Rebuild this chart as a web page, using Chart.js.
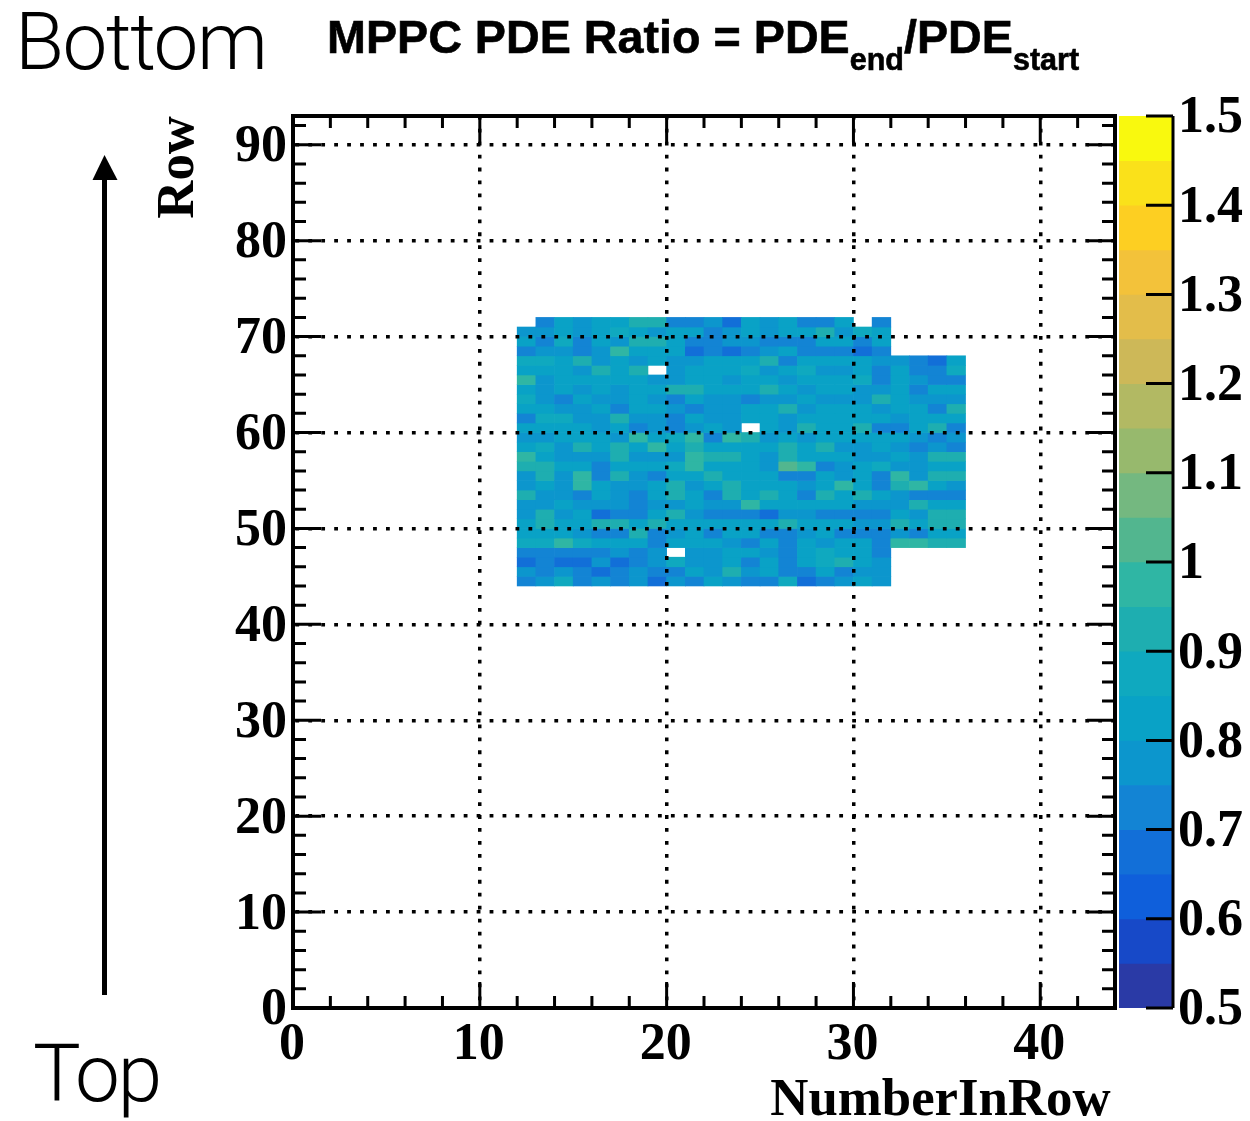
<!DOCTYPE html>
<html>
<head>
<meta charset="utf-8">
<title>MPPC PDE Ratio</title>
<script src="https://cdn.jsdelivr.net/npm/chart.js@4"></script>
<style>
    html, body { margin: 0; padding: 0; background: #fff; }
    #page { position: relative; width: 1250px; height: 1121px; overflow: hidden; }
    #mainChart { position: absolute; left: 0; top: 0; }
    #barChart { position: absolute; left: 1119px; top: 60px; }
    #arrow { position: absolute; left: 80px; top: 140px; }
    .side { position: absolute; font-family: Roboto, sans-serif; font-weight: 300; font-size: 80px; line-height: 81px; color: #000; white-space: nowrap; }
    #title { position: absolute; left: 327px; top: 11px; font: bold 46.7px/52px "Liberation Sans", sans-serif; color: #000; white-space: nowrap; -webkit-text-stroke: 0.6px #000; }
    #title span { position: relative; top: 17px; font-size: 30.5px; }
</style>
</head>
<body>
<div id="page">
    <canvas id="mainChart" width="1250" height="1121"></canvas>
    <canvas id="barChart" width="131" height="1030"></canvas>
    <svg id="arrow" width="50" height="870">
        <line x1="24.5" y1="35" x2="24.5" y2="855" stroke="#000" stroke-width="5"></line>
        <polygon points="24.5,15 12.5,40 37.5,40" fill="#000"></polygon>
    </svg>
    <div class="side" style="left:15px; top:2px; letter-spacing:-1.5px;">Bottom</div>
    <div class="side" style="left:33px; top:1034px; letter-spacing:-2px;">Top</div>
    <div id="title">MPPC PDE Ratio = PDE<span>end</span>/PDE<span>start</span></div>
</div>
<script>
// first column of every row below, rows run from column 12 to 35
const firstColumn = 12;
const xTicks = [0, 10, 20, 30, 40];
const yTicks = [0, 10, 20, 30, 40, 50, 60, 70, 80, 90];
const zTicks = [0.5, 0.6, 0.7, 0.8, 0.9, 1, 1.1, 1.2, 1.3, 1.4, 1.5];

const row44 = [.72,.77,.87,.72,.77,.72,.77,.67,.77,.72,.82,.77,.72,.72,.87,.67,.72,.77,.82,.77,null,null,null,null];
const row45 = [.77,.72,.77,.72,.67,.72,.77,.72,.72,.82,.77,.92,.77,.82,.72,.72,.82,.72,.77,.77,null,null,null,null];
const row46 = [.67,.72,.67,.67,.77,.67,.72,.77,.87,.77,.77,.82,.72,.82,.72,.82,.87,.92,.82,.77,null,null,null,null];
const row47 = [.72,.72,.72,.72,.72,.77,.72,.77,null,.77,.77,.82,.82,.77,.72,.82,.87,.82,.82,.72,null,null,null,null];
const row48 = [.87,.87,.97,.87,.82,.82,.82,.72,.82,.82,.82,.77,.72,.82,.72,.82,.77,.82,.82,.72,.97,.97,.92,.92];
const row49 = [.82,.82,.82,.77,.72,.72,.92,.72,.77,.82,.72,.82,.82,.72,.72,.77,.82,.72,.72,.72,.77,.72,.82,.82];
const row50 = [.82,.92,.82,.82,.92,.92,.82,.92,.82,.82,.82,.82,.82,.82,.92,.82,.82,.82,.77,.77,.92,.82,.92,.92];
const row51 = [.77,.92,.77,.82,.67,.72,.72,.82,.92,.77,.72,.72,.72,.67,.77,.77,.72,.72,.72,.72,.82,.77,.92,.92];
const row52 = [.77,.77,.82,.77,.77,.77,.72,.77,.77,.82,.77,.77,.97,.82,.82,.82,.82,.82,.77,.77,.77,.92,.82,.82];
const row53 = [.92,.77,.77,.72,.82,.77,.72,.82,.92,.82,.72,.92,.82,.92,.82,.72,.92,.82,.92,.82,.77,.72,.72,.72];
const row54 = [.77,.82,.77,.97,.82,.77,.77,.82,.92,.77,.82,.92,.82,.82,.82,.77,.82,.97,.82,.72,.92,.97,.82,.77];
const row55 = [.77,.92,.77,.97,.72,.92,.77,.72,.82,.82,.92,.82,.82,.82,.72,.72,.82,.77,.82,.72,.97,.77,.92,.92];
const row56 = [.92,.92,.82,.82,.72,.82,.82,.82,.87,.97,.82,.82,.82,.77,1.02,.97,.72,.77,.82,.87,.77,.77,.82,.82];
const row57 = [.97,.82,.77,.77,.77,.92,.77,.77,.77,.97,.92,.92,.82,.77,.92,.82,.82,.82,.77,.77,.82,.77,.92,.92];
const row58 = [.82,.87,.77,.92,.82,.92,.82,.97,.82,.92,.82,.82,.82,.82,.92,.82,.92,.77,.77,.82,.77,.72,.77,.72];
const row59 = [.77,.77,.82,.82,.82,.77,.97,.82,.87,.97,.72,.97,.92,.77,.82,.77,.82,.82,.82,.82,.82,.77,.72,.77];
const row60 = [.82,.82,.82,.82,.77,.82,.72,.77,.72,.77,.82,.77,null,.82,.77,.92,.82,.82,.92,.72,.72,.82,.92,.72];
const row61 = [.72,.87,.87,.77,.77,.92,.77,.77,.72,.82,.77,.77,.82,.82,.77,.82,.82,.82,.82,.82,.77,.82,.82,.82];
const row62 = [.82,.82,.77,.77,.82,.72,.82,.82,.77,.72,.77,.77,.82,.82,.92,.77,.82,.82,.82,.77,.82,.82,.72,.92];
const row63 = [.87,.77,.72,.82,.77,.77,.82,.77,.72,.82,.77,.77,.72,.77,.77,.82,.77,.77,.77,.92,.82,.77,.77,.77];
const row64 = [.82,.77,.82,.77,.82,.77,.82,.82,.92,.92,.82,.82,.82,.92,.82,.77,.82,.82,.77,.77,.82,.72,.82,.82];
const row65 = [.97,.77,.82,.82,.82,.82,.82,.77,.77,.82,.82,.77,.82,.82,.77,.82,.82,.82,.87,.72,.82,.77,.72,.72];
const row66 = [.82,.82,.82,.77,.92,.82,.92,null,.77,.82,.82,.82,.87,.77,.82,.87,.77,.77,.82,.72,.82,.72,.72,.87];
const row67 = [.87,.87,.82,.92,.77,.82,.77,.82,.77,.77,.82,.82,.82,.92,.72,.82,.82,.82,.82,.77,.77,.72,.67,.82];
const row68 = [.72,.77,.77,.72,.77,.97,.82,.82,.82,.67,.72,.67,.72,.77,.82,.72,.72,.72,.67,.72,null,null,null,null];
const row69 = [.82,.72,.87,.72,.82,.77,.92,.92,.82,.72,.72,.77,.77,.72,.72,.72,.82,.82,.72,.82,null,null,null,null];
const row70 = [.77,.77,.82,.77,.82,.87,.82,.77,.82,.82,.72,.77,.82,.77,.82,.82,.92,.77,.87,.82,null,null,null,null];
const row71 = [null,.72,.82,.77,.82,.82,.92,.92,.72,.72,.77,.67,.82,.77,.82,.72,.72,.82,null,.72,null,null,null,null];
const ratioRows = [
    [44, row44], [45, row45], [46, row46], [47, row47], [48, row48], [49, row49], [50, row50],
    [51, row51], [52, row52], [53, row53], [54, row54], [55, row55], [56, row56], [57, row57],
    [58, row58], [59, row59], [60, row60], [61, row61], [62, row62], [63, row63], [64, row64],
    [65, row65], [66, row66], [67, row67], [68, row68], [69, row69], [70, row70], [71, row71]
];

// palette levels, bottom to top of the colour bar
const zLevels = [0.5, 0.55, 0.6, 0.65, 0.7, 0.75, 0.8, 0.85, 0.9, 0.95, 1, 1.05, 1.1, 1.15, 1.2, 1.25, 1.3, 1.35, 1.4, 1.45];
const zColors = ['#2a3aa6', '#1749c8', '#0f5fdb', '#126fd8', '#1384d4', '#0c96cd', '#09a2c6', '#0fa9bf', '#1eaeb0', '#2fb6a4',
    '#52b68f', '#74b880', '#97b96d', '#b2b963', '#cdb858', '#e3bd4a', '#f3c23a', '#fdcf22', '#fae11a', '#f9f90e'];

function colorFor(value) {
    let idx = 0;
    zLevels.forEach((lvl, i) => { if (value >= lvl) idx = i; });
    return zColors[idx];
}

const cells = [];
ratioRows.forEach(([row, values]) => {
    values.forEach((v, i) => {
        if (v !== null) cells.push({ x: firstColumn + i + 0.5, y: [row, row + 1], v: v });
    });
});

const labelFont = { family: "'Liberation Serif', serif", weight: 'bold', size: 52 };
const titleFont = { family: "'Liberation Serif', serif", weight: 'bold', size: 52.8 };

// ROOT style frame: inward major and minor ticks on all four sides
const framePlugin = {
    id: 'frame',
    afterDatasetsDraw(chart) {
        const { ctx, chartArea: a, scales: { x, y } } = chart;
        ctx.save();
        ctx.strokeStyle = '#000';
        ctx.lineWidth = 3;
        ctx.beginPath();
        for (let v = 2; v < 44; v += 2) {
            const px = x.getPixelForValue(v);
            const len = v % 10 === 0 ? 26 : 12;
            ctx.moveTo(px, a.bottom); ctx.lineTo(px, a.bottom - len);
            ctx.moveTo(px, a.top); ctx.lineTo(px, a.top + len);
        }
        for (let v = 2; v < 93; v += 2) {
            const py = y.getPixelForValue(v);
            const len = v % 10 === 0 ? 28 : 13;
            ctx.moveTo(a.left, py); ctx.lineTo(a.left + len, py);
            ctx.moveTo(a.right, py); ctx.lineTo(a.right - len, py);
        }
        ctx.stroke();
        ctx.lineWidth = 4;
        ctx.strokeRect(a.left, a.top, a.right - a.left, a.bottom - a.top);
        ctx.restore();
    }
};

new Chart(document.getElementById('mainChart').getContext('2d'), {
    type: 'bar',
    data: {
        datasets: [{
            data: cells,
            backgroundColor: c => c.raw ? colorFor(c.raw.v) : '#fff',
            borderWidth: 0,
            barPercentage: 1,
            categoryPercentage: 1,
            grouped: false
        }]
    },
    options: {
        responsive: false,
        animation: false,
        layout: { padding: { top: 116, right: 135 } },
        plugins: { legend: { display: false }, tooltip: { enabled: false } },
        scales: {
            x: {
                type: 'linear',
                offset: false,
                min: 0,
                max: 44,
                afterFit: s => { s.height = 113; },
                afterBuildTicks: s => { s.ticks = xTicks.map(v => ({ value: v })); },
                border: { display: false, dash: [3.8, 9.15], dashOffset: 0.2 },
                grid: { offset: false, z: 1, color: '#000', lineWidth: 3.5, drawTicks: false },
                ticks: { color: '#000', font: labelFont, padding: 6, labelOffset: -1, maxRotation: 0, autoSkip: false },
                title: { display: true, text: 'NumberInRow\u200a', align: 'end', color: '#000', font: titleFont, padding: { top: 0, bottom: -12 } }
            },
            y: {
                type: 'linear',
                min: 0,
                max: 93,
                afterFit: s => { s.width = 293; },
                afterBuildTicks: s => { s.ticks = yTicks.map(v => ({ value: v })); },
                border: { display: false, dash: [3.8, 9.15], dashOffset: 10.6 },
                grid: { z: 1, color: '#000', lineWidth: 3.5, drawTicks: false },
                ticks: { color: '#000', font: labelFont, padding: 6, labelOffset: 3, autoSkip: false },
                title: { display: true, text: 'Row', align: 'end', color: '#000', font: titleFont, padding: { top: 148, bottom: 0 } }
            }
        }
    },
    plugins: [framePlugin]
});

// colour bar, its own small chart to the right of the frame
const barPlugin = {
    id: 'barFrame',
    afterDatasetsDraw(chart) {
        const { ctx, chartArea: a, scales: { y } } = chart;
        ctx.save();
        ctx.strokeStyle = '#000';
        ctx.lineWidth = 3;
        ctx.beginPath();
        ctx.moveTo(a.right, a.top); ctx.lineTo(a.right, a.bottom);
        zTicks.forEach(v => {
            const py = y.getPixelForValue(v);
            ctx.moveTo(a.right, py); ctx.lineTo(a.right - 27, py);
        });
        ctx.stroke();
        ctx.restore();
    }
};

new Chart(document.getElementById('barChart').getContext('2d'), {
    type: 'bar',
    data: {
        labels: zLevels.map(String),
        datasets: [{
            data: zLevels.map(lvl => ({ x: 'z', y: [lvl, lvl + 0.05] })),
            backgroundColor: zColors,
            borderWidth: 0,
            barPercentage: 1,
            categoryPercentage: 1,
            grouped: false
        }]
    },
    options: {
        responsive: false,
        animation: false,
        layout: { padding: { top: 56, bottom: 82 } },
        plugins: { legend: { display: false }, tooltip: { enabled: false } },
        scales: {
            x: { type: 'category', labels: ['z'], display: false },
            y: {
                type: 'linear',
                position: 'right',
                min: 0.5,
                max: 1.5,
                afterFit: s => { s.width = 77; },
                afterBuildTicks: s => { s.ticks = zTicks.map(v => ({ value: v })); },
                border: { display: false },
                grid: { display: false, drawTicks: false },
                ticks: { color: '#000', font: labelFont, padding: 5, labelOffset: 3, autoSkip: false, callback: v => String(v) }
            }
        }
    },
    plugins: [barPlugin]
});
</script>
</body>
</html>
